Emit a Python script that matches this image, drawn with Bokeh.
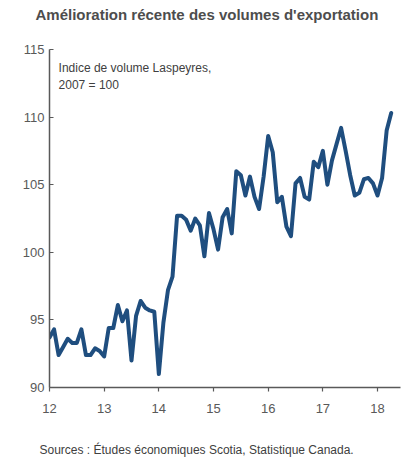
from bokeh.plotting import figure
from bokeh.models import Range1d, FixedTicker, Label, Title
from bokeh.embed import file_html
from bokeh.resources import INLINE

# Monthly export volume index, Jan 2012 - Apr 2018
years = [12, 13, 14, 15, 16, 17, 18]
vals_2012 = [93.7, 94.3, 92.4, 93.0, 93.6, 93.3, 93.3, 94.3, 92.4, 92.4, 92.9, 92.7]
vals_2013 = [92.3, 94.4, 94.4, 96.1, 94.9, 95.7, 92.0, 95.3, 96.4, 95.9, 95.7, 95.6]
vals_2014 = [91.0, 94.8, 97.2, 98.2, 102.7, 102.7, 102.4, 101.6, 102.5, 102.0, 99.7, 102.9]
vals_2015 = [101.7, 100.2, 102.6, 103.2, 101.4, 106.0, 105.7, 104.2, 105.6, 104.1, 103.2, 105.6]
vals_2016 = [108.6, 107.4, 103.7, 104.1, 101.9, 101.2, 105.1, 105.5, 104.1, 103.9, 106.7, 106.3]
vals_2017 = [107.5, 105.0, 106.8, 108.0, 109.2, 107.5, 105.7, 104.2, 104.4, 105.4, 105.5, 105.1]
vals_2018 = [104.2, 105.5, 109.0, 110.3]
y_ticks = [90, 95, 100, 105, 110, 115]

title_text = "Amélioration récente des volumes d'exportation"
note_1 = "Indice de volume Laspeyres,"
note_2 = "2007 = 100"
source_text = "Sources : Études économiques Scotia, Statistique Canada."

values = vals_2012 + vals_2013 + vals_2014 + vals_2015 + vals_2016 + vals_2017 + vals_2018
xs = [12 + i / 12 for i in range(len(values))]

FONT = "Liberation Sans"
GRAY = "#595959"

p = figure(width=412, height=457, output_backend="svg", toolbar_location=None,
           x_range=Range1d(12, 18.42), y_range=Range1d(90, 115),
           min_border_left=49, min_border_right=12, min_border_top=49, min_border_bottom=70)
p.outline_line_color = None
p.grid.grid_line_color = None
p.background_fill_color = "white"
p.border_fill_color = "white"

p.title.text = title_text
p.title.align = "left"
p.title.offset = -14
p.title.text_font = FONT
p.title.text_font_size = "15px"
p.title.text_font_style = "bold"
p.title.text_color = "#4d4d4d"
p.title.standoff = 4

# spacer between title and plot area
p.add_layout(Title(text=" ", text_font=FONT, text_font_size="12px", standoff=9), "above")

p.line(xs, values, line_color="#1f4e7f", line_width=4, line_join="round", line_cap="round")

p.xaxis.ticker = FixedTicker(ticks=years)
p.yaxis.ticker = FixedTicker(ticks=y_ticks)
for ax in (p.xaxis[0], p.yaxis[0]):
    ax.axis_line_color = GRAY
    ax.axis_line_width = 1.5
    ax.major_tick_line_color = GRAY
    ax.major_tick_line_width = 1.2
    ax.minor_tick_line_color = None
    ax.major_label_text_font = FONT
    ax.major_label_text_font_size = "13px"
    ax.major_label_text_color = GRAY
p.xaxis.major_tick_in = 0
p.xaxis.major_tick_out = 4
p.xaxis.major_label_standoff = 12
p.yaxis.major_tick_in = 4
p.yaxis.major_tick_out = 0
p.yaxis.major_label_standoff = 5

def px2x(px):
    return 12 + (px - 49) / 54.3

def py2y(py):
    return 115 - (py - 49) / 13.52

p.add_layout(Label(x=px2x(58), y=py2y(67), text=note_1, text_font=FONT,
                   text_font_size="12px", text_color="#404040",
                   text_align="left", text_baseline="middle"))
p.add_layout(Label(x=px2x(58), y=py2y(84), text=note_2, text_font=FONT,
                   text_font_size="12px", text_color="#404040",
                   text_align="left", text_baseline="middle"))

# spacer between x axis and source line
p.add_layout(Title(text=" ", text_font=FONT, text_font_size="12px", standoff=8), "below")
src = Title(text=source_text, align="left", text_font=FONT, text_font_size="12px",
            text_font_style="normal", text_color="#404040", offset=-10, standoff=2)
p.add_layout(src, "below")

open("out.html", "w").write(file_html(p, INLINE))
